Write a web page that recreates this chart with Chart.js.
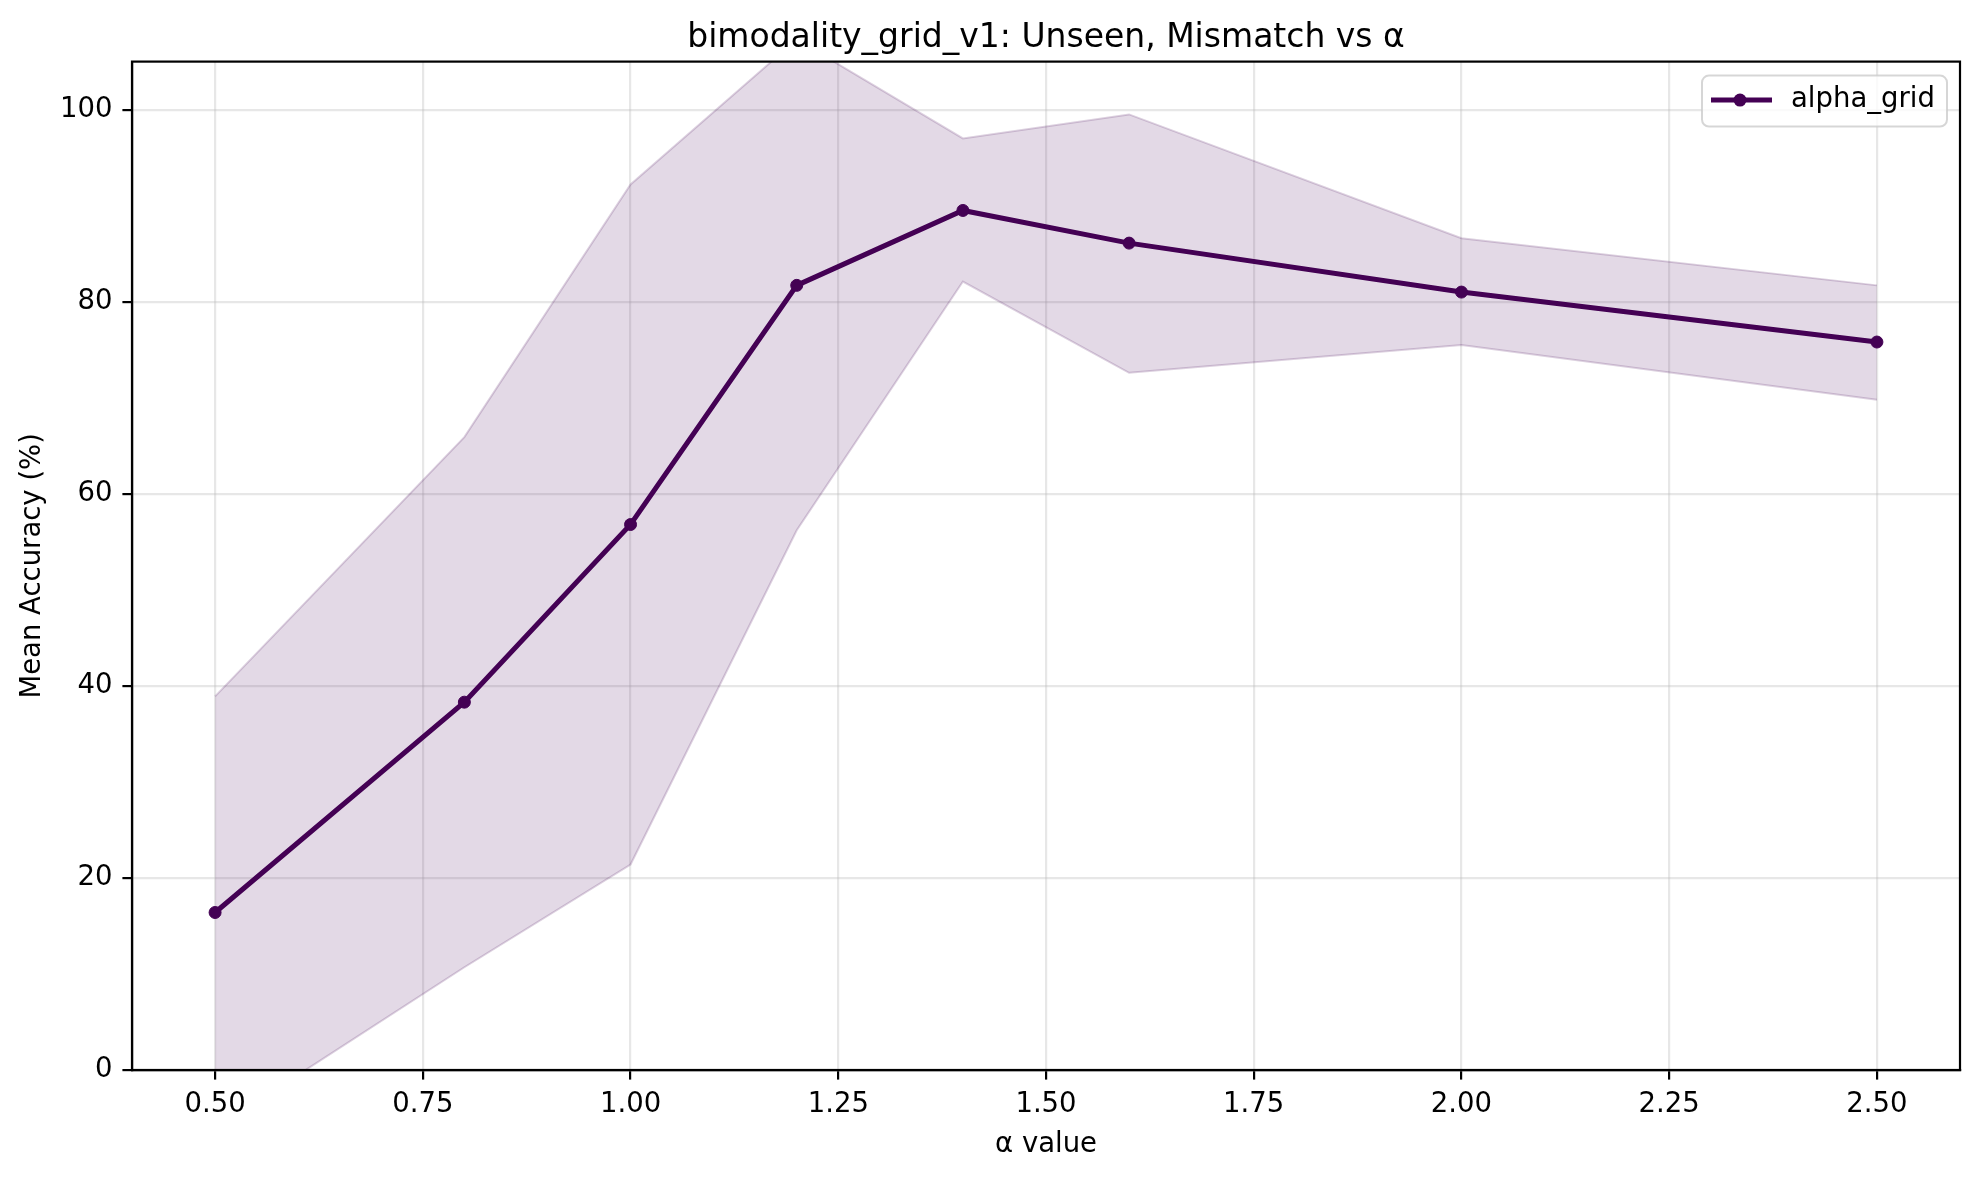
<!DOCTYPE html>
<html lang="en">
<head>
  <meta charset="UTF-8" />
  <title>bimodality_grid_v1</title>
  <script src="https://cdn.jsdelivr.net/npm/chart.js"></script>
  <style>
    * { margin: 0; padding: 0; box-sizing: border-box; }
    body { background: #fff; width: 1980px; height: 1177px; overflow: hidden; }
    canvas { display: block; }
  </style>
</head>
<body>
  <canvas id="accChart" width="1980" height="1177"></canvas>

  <script>
    // values
    const alphas   = [0.5, 0.8, 1.0, 1.2, 1.4, 1.6, 2.0, 2.5];
    const meanAcc  = [16.4, 38.3, 56.8, 81.7, 89.5, 86.1, 81.0, 75.8];
    const upperAcc = [38.9, 65.9, 92.2, 107.3, 97.0, 99.5, 86.6, 81.7];
    const lowerAcc = [-6.1, 10.7, 21.4, 56.2, 82.1, 72.6, 75.5, 69.8];
    const xTicks = [0.5, 0.75, 1.0, 1.25, 1.5, 1.75, 2.0, 2.25, 2.5];
    const yTicks = [0, 20, 40, 60, 80, 100];

    const FONT = "'DejaVu Sans', sans-serif";
    const lineColor = '#440154';
    const bandFill = 'rgba(68, 1, 84, 0.15)';
    const bandEdge = 'rgba(68, 1, 84, 0.18)';
    const gridColor = 'rgba(176, 176, 176, 0.3)';

    const pts = ys => alphas.map((a, i) => ({ x: a, y: ys[i] }));

    // top/right spines like a matplotlib axes box
    const frameBox = {
      id: 'frameBox',
      afterDatasetsDraw(chart) {
        const { ctx, chartArea: a } = chart;
        ctx.save();
        ctx.strokeStyle = '#000';
        ctx.lineWidth = 2.2;
        ctx.strokeRect(a.left, a.top, a.right - a.left, a.bottom - a.top);
        ctx.restore();
      }
    };

    // legend box in the upper right, line + dot marker
    const boxLegend = {
      id: 'boxLegend',
      afterDraw(chart) {
        const { ctx, chartArea: a } = chart;
        const ds = chart.data.datasets[0];
        const w = 245, h = 51;
        const x = a.right - 13 - w, y = a.top + 14;
        ctx.save();
        ctx.beginPath();
        ctx.roundRect(x, y, w, h, 7);
        ctx.fillStyle = 'rgba(255,255,255,0.8)';
        ctx.fill();
        ctx.strokeStyle = 'rgba(204,204,204,0.8)';
        ctx.lineWidth = 2;
        ctx.stroke();
        const my = y + h / 2 - 1;
        ctx.strokeStyle = ds.borderColor;
        ctx.lineWidth = ds.borderWidth;
        ctx.beginPath();
        ctx.moveTo(x + 9, my);
        ctx.lineTo(x + 70, my);
        ctx.stroke();
        ctx.fillStyle = ds.borderColor;
        ctx.beginPath();
        ctx.arc(x + 38, my, 6.5, 0, Math.PI * 2);
        ctx.fill();
        ctx.fillStyle = '#000';
        ctx.font = '27.5px ' + FONT;
        ctx.textBaseline = 'middle';
        ctx.textAlign = 'left';
        ctx.fillText(ds.label, x + 89, my);
        ctx.restore();
      }
    };

    const ctx = document.getElementById('accChart').getContext('2d');
    const accChart = new Chart(ctx, {
      type: 'line',
      data: {
        datasets: [
          {
            label: 'alpha_grid',
            data: pts(meanAcc),
            borderColor: lineColor,
            backgroundColor: lineColor,
            borderWidth: 5,
            pointRadius: 6,
            pointBorderWidth: 1,
            pointBackgroundColor: lineColor,
            pointBorderColor: lineColor,
            fill: false,
            order: 0
          },
          {
            label: 'upper',
            data: pts(upperAcc),
            borderColor: bandEdge,
            backgroundColor: bandFill,
            borderWidth: 2,
            pointRadius: 0,
            fill: '+1',
            order: 1
          },
          {
            label: 'lower',
            data: pts(lowerAcc),
            borderColor: bandEdge,
            borderWidth: 2,
            pointRadius: 0,
            fill: false,
            order: 2
          }
        ]
      },
      options: {
        responsive: false,
        animation: false,
        devicePixelRatio: 1,
        layout: { padding: { left: 0, right: 20, top: 0, bottom: 0 } },
        plugins: {
          legend: { display: false },
          tooltip: { enabled: false },
          title: {
            display: true,
            fullSize: false,
            text: 'bimodality_grid_v1: Unseen, Mismatch vs α',
            color: '#000',
            font: { family: FONT, size: 33, weight: 'normal' },
            padding: { top: 19, bottom: 3 }
          }
        },
        scales: {
          x: {
            type: 'linear',
            min: 0.4,
            max: 2.6,
            afterBuildTicks: s => { s.ticks = xTicks.map(v => ({ value: v })); },
            afterFit: s => { s.height = 107; },
            ticks: {
              color: '#000',
              font: { family: FONT, size: 27.5 },
              padding: 9,
              maxRotation: 0,
              callback: v => Number(v).toFixed(2)
            },
            grid: {
              color: gridColor,
              lineWidth: 2.2,
              tickColor: '#000',
              tickLength: 9.6,
              tickWidth: 2.2
            },
            border: { color: '#000', width: 2.2 },
            title: {
              display: true,
              text: 'α value',
              color: '#000',
              font: { family: FONT, size: 27.5 },
              padding: { top: 0, bottom: 15.5 }
            }
          },
          y: {
            min: 0,
            max: 105,
            afterBuildTicks: s => { s.ticks = yTicks.map(v => ({ value: v })); },
            afterFit: s => { s.width = 132; },
            ticks: {
              color: '#000',
              font: { family: FONT, size: 27.5 },
              padding: 10,
              callback: v => String(v)
            },
            grid: {
              color: gridColor,
              lineWidth: 2.2,
              tickColor: '#000',
              tickLength: 9.6,
              tickWidth: 2.2
            },
            border: { color: '#000', width: 2.2 },
            title: {
              display: true,
              text: 'Mean Accuracy (%)',
              color: '#000',
              font: { family: FONT, size: 27.5 },
              padding: { top: 16, bottom: 0 }
            }
          }
        }
      },
      plugins: [frameBox, boxLegend]
    });
  </script>
</body>
</html>
